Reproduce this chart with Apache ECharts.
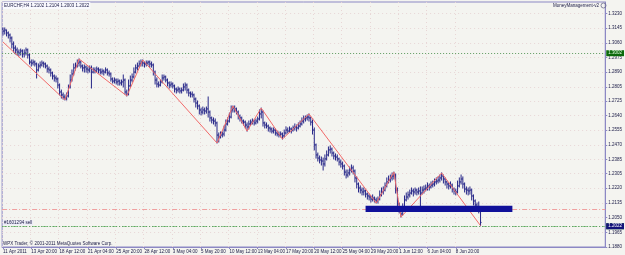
<!DOCTYPE html>
<html><head><meta charset="utf-8">
<script src="https://cdn.jsdelivr.net/npm/echarts@6/dist/echarts.min.js"></script>
<style>html,body{margin:0;padding:0;background:#f4f4f0;}#c{width:625px;height:255px;}</style>
</head><body><div id="c"></div>
<script>
const symbol = 'EURCHF', timeframe = 'H4';
const opens = [
1.3140,1.3128,1.3134,1.3117,1.3105,1.3088,1.3053,1.3030,1.3019,1.3007,
1.3001,1.3013,1.2996,1.3001,1.3019,1.2990,1.2949,1.2943,1.2949,1.2938,
1.2903,1.2926,1.2932,1.2943,1.2938,1.2926,1.2909,1.2903,1.2886,1.2868,
1.2857,1.2851,1.2816,1.2776,1.2759,1.2747,1.2741,1.2753,1.2805,1.2845,
1.2880,1.2915,1.2926,1.2943,1.2949,1.2926,1.2915,1.2920,1.2909,1.2903,
1.2915,1.2891,1.2903,1.2897,1.2909,1.2903,1.2891,1.2897,1.2891,1.2903,
1.2886,1.2880,1.2851,1.2839,1.2845,1.2834,1.2839,1.2828,1.2834,1.2845,
1.2776,1.2764,1.2811,1.2845,1.2863,1.2891,1.2915,1.2926,1.2938,1.2949,
1.2943,1.2938,1.2943,1.2949,1.2938,1.2932,1.2891,1.2845,1.2822,1.2816,
1.2834,1.2857,1.2863,1.2845,1.2828,1.2816,1.2822,1.2811,1.2793,1.2787,
1.2793,1.2782,1.2787,1.2805,1.2816,1.2787,1.2770,1.2764,1.2759,1.2735,
1.2712,1.2695,1.2672,1.2660,1.2672,1.2666,1.2678,1.2660,1.2626,1.2614,
1.2608,1.2597,1.2527,1.2516,1.2527,1.2533,1.2556,1.2591,1.2608,1.2631,
1.2672,1.2683,1.2678,1.2660,1.2637,1.2626,1.2608,1.2602,1.2585,1.2574,
1.2591,1.2602,1.2608,1.2597,1.2608,1.2620,1.2649,1.2660,1.2597,1.2585,
1.2579,1.2568,1.2562,1.2550,1.2556,1.2539,1.2533,1.2527,1.2533,1.2522,
1.2539,1.2556,1.2550,1.2562,1.2556,1.2568,1.2574,1.2568,1.2579,1.2591,
1.2608,1.2620,1.2626,1.2631,1.2626,1.2602,1.2556,1.2470,1.2412,1.2394,
1.2383,1.2377,1.2360,1.2389,1.2412,1.2441,1.2446,1.2423,1.2406,1.2400,
1.2389,1.2371,1.2360,1.2348,1.2313,1.2296,1.2308,1.2325,1.2337,1.2319,
1.2279,1.2244,1.2221,1.2209,1.2198,1.2204,1.2186,1.2175,1.2169,1.2157,
1.2163,1.2152,1.2146,1.2157,1.2181,1.2198,1.2209,1.2233,1.2256,1.2267,
1.2279,1.2290,1.2296,1.2209,1.2129,1.2094,1.2071,1.2105,1.2152,1.2169,
1.2181,1.2192,1.2204,1.2198,1.2209,1.2198,1.2204,1.2192,1.2209,1.2215,
1.2221,1.2233,1.2227,1.2238,1.2244,1.2256,1.2261,1.2267,1.2279,1.2290,
1.2273,1.2256,1.2244,1.2233,1.2238,1.2215,1.2204,1.2198,1.2233,1.2256,
1.2273,1.2244,1.2215,1.2209,1.2204,1.2209,1.2175,1.2146,1.2123,1.2111,
1.2102];
const highs = [
1.3146,1.3146,1.3134,1.3123,1.3111,1.3094,1.3065,1.3042,1.3030,1.3019,
1.3024,1.3019,1.3019,1.3030,1.3024,1.2996,1.2961,1.2961,1.2955,1.2943,
1.2938,1.2949,1.2955,1.2949,1.2943,1.2932,1.2920,1.2909,1.2891,1.2874,
1.2868,1.2857,1.2822,1.2787,1.2770,1.2759,1.2770,1.2816,1.2874,1.2903,
1.2938,1.2943,1.2961,1.2967,1.2955,1.2932,1.2932,1.2926,1.2920,1.2926,
1.2926,1.2915,1.2915,1.2920,1.2915,1.2909,1.2909,1.2903,1.2915,1.2909,
1.2897,1.2886,1.2857,1.2857,1.2851,1.2851,1.2845,1.2845,1.2874,1.2851,
1.2787,1.2845,1.2868,1.2880,1.2915,1.2932,1.2943,1.2955,1.2961,1.2961,
1.2949,1.2955,1.2955,1.2955,1.2949,1.2938,1.2897,1.2857,1.2834,1.2845,
1.2874,1.2874,1.2868,1.2851,1.2834,1.2834,1.2828,1.2816,1.2799,1.2805,
1.2799,1.2799,1.2822,1.2828,1.2822,1.2793,1.2776,1.2776,1.2764,1.2741,
1.2724,1.2701,1.2683,1.2689,1.2683,1.2689,1.2747,1.2666,1.2631,1.2626,
1.2620,1.2602,1.2539,1.2545,1.2545,1.2579,1.2614,1.2626,1.2654,1.2695,
1.2695,1.2695,1.2683,1.2666,1.2643,1.2631,1.2614,1.2608,1.2597,1.2608,
1.2614,1.2620,1.2614,1.2620,1.2631,1.2672,1.2683,1.2666,1.2602,1.2597,
1.2585,1.2574,1.2568,1.2568,1.2562,1.2550,1.2545,1.2545,1.2539,1.2556,
1.2574,1.2568,1.2574,1.2568,1.2579,1.2591,1.2585,1.2597,1.2608,1.2626,
1.2637,1.2637,1.2643,1.2649,1.2631,1.2614,1.2568,1.2475,1.2423,1.2406,
1.2400,1.2394,1.2412,1.2435,1.2458,1.2464,1.2452,1.2429,1.2418,1.2412,
1.2394,1.2383,1.2371,1.2354,1.2325,1.2325,1.2342,1.2354,1.2348,1.2325,
1.2285,1.2250,1.2233,1.2221,1.2221,1.2209,1.2192,1.2186,1.2175,1.2181,
1.2169,1.2163,1.2169,1.2204,1.2221,1.2227,1.2250,1.2279,1.2290,1.2296,
1.2308,1.2313,1.2302,1.2221,1.2134,1.2105,1.2129,1.2175,1.2192,1.2198,
1.2209,1.2221,1.2215,1.2221,1.2215,1.2221,1.2227,1.2227,1.2233,1.2238,
1.2250,1.2244,1.2256,1.2261,1.2273,1.2279,1.2285,1.2296,1.2308,1.2296,
1.2279,1.2261,1.2250,1.2256,1.2244,1.2221,1.2215,1.2261,1.2279,1.2296,
1.2285,1.2250,1.2227,1.2221,1.2227,1.2215,1.2181,1.2152,1.2134,1.2140,
1.2104];
const lows = [
1.3105,1.3111,1.3100,1.3088,1.3065,1.3030,1.3007,1.2996,1.2990,1.2984,
1.2990,1.2978,1.2978,1.2990,1.2972,1.2938,1.2926,1.2932,1.2926,1.2857,
1.2897,1.2915,1.2926,1.2920,1.2915,1.2891,1.2886,1.2868,1.2851,1.2839,
1.2834,1.2799,1.2759,1.2741,1.2735,1.2730,1.2730,1.2747,1.2799,1.2839,
1.2874,1.2903,1.2920,1.2926,1.2915,1.2897,1.2891,1.2891,1.2886,1.2891,
1.2799,1.2886,1.2886,1.2891,1.2886,1.2880,1.2880,1.2874,1.2886,1.2874,
1.2868,1.2839,1.2828,1.2828,1.2822,1.2816,1.2816,1.2816,1.2805,1.2764,
1.2753,1.2759,1.2805,1.2834,1.2857,1.2886,1.2903,1.2920,1.2926,1.2926,
1.2920,1.2926,1.2932,1.2920,1.2920,1.2874,1.2822,1.2805,1.2805,1.2811,
1.2828,1.2845,1.2834,1.2811,1.2799,1.2805,1.2799,1.2776,1.2770,1.2776,
1.2770,1.2770,1.2782,1.2787,1.2770,1.2753,1.2747,1.2747,1.2718,1.2689,
1.2678,1.2649,1.2643,1.2649,1.2649,1.2654,1.2631,1.2608,1.2597,1.2591,
1.2579,1.2481,1.2487,1.2510,1.2516,1.2522,1.2550,1.2585,1.2602,1.2626,
1.2660,1.2660,1.2649,1.2620,1.2608,1.2597,1.2585,1.2568,1.2550,1.2562,
1.2585,1.2591,1.2585,1.2591,1.2597,1.2614,1.2626,1.2579,1.2568,1.2568,
1.2550,1.2545,1.2539,1.2539,1.2527,1.2522,1.2516,1.2516,1.2504,1.2516,
1.2533,1.2539,1.2545,1.2539,1.2550,1.2556,1.2550,1.2562,1.2574,1.2585,
1.2597,1.2608,1.2614,1.2608,1.2585,1.2533,1.2441,1.2394,1.2377,1.2366,
1.2354,1.2325,1.2348,1.2383,1.2406,1.2423,1.2406,1.2389,1.2383,1.2377,
1.2354,1.2342,1.2331,1.2296,1.2279,1.2285,1.2296,1.2313,1.2302,1.2256,
1.2221,1.2198,1.2192,1.2181,1.2181,1.2169,1.2157,1.2152,1.2140,1.2146,
1.2140,1.2134,1.2134,1.2152,1.2175,1.2186,1.2204,1.2227,1.2250,1.2256,
1.2267,1.2273,1.2192,1.2111,1.2077,1.2053,1.2065,1.2100,1.2146,1.2157,
1.2169,1.2186,1.2175,1.2186,1.2181,1.2186,1.2111,1.2186,1.2192,1.2204,
1.2209,1.2209,1.2221,1.2227,1.2233,1.2244,1.2250,1.2256,1.2267,1.2250,
1.2238,1.2221,1.2215,1.2221,1.2198,1.2186,1.2181,1.2192,1.2227,1.2244,
1.2221,1.2198,1.2186,1.2181,1.2186,1.2152,1.2123,1.2105,1.2094,1.2077,
1.2003];
const closes = [
1.3128,1.3134,1.3117,1.3105,1.3088,1.3053,1.3030,1.3019,1.3007,1.3001,
1.3013,1.2996,1.3001,1.3019,1.2990,1.2949,1.2943,1.2949,1.2938,1.2903,
1.2926,1.2932,1.2943,1.2938,1.2926,1.2909,1.2903,1.2886,1.2868,1.2857,
1.2851,1.2816,1.2776,1.2759,1.2747,1.2741,1.2753,1.2805,1.2845,1.2880,
1.2915,1.2926,1.2943,1.2949,1.2926,1.2915,1.2920,1.2909,1.2903,1.2915,
1.2891,1.2903,1.2897,1.2909,1.2903,1.2891,1.2897,1.2891,1.2903,1.2886,
1.2880,1.2851,1.2839,1.2845,1.2834,1.2839,1.2828,1.2834,1.2845,1.2776,
1.2764,1.2811,1.2845,1.2863,1.2891,1.2915,1.2926,1.2938,1.2949,1.2943,
1.2938,1.2943,1.2949,1.2938,1.2932,1.2891,1.2845,1.2822,1.2816,1.2834,
1.2857,1.2863,1.2845,1.2828,1.2816,1.2822,1.2811,1.2793,1.2787,1.2793,
1.2782,1.2787,1.2805,1.2816,1.2787,1.2770,1.2764,1.2759,1.2735,1.2712,
1.2695,1.2672,1.2660,1.2672,1.2666,1.2678,1.2660,1.2626,1.2614,1.2608,
1.2597,1.2527,1.2516,1.2527,1.2533,1.2556,1.2591,1.2608,1.2631,1.2672,
1.2683,1.2678,1.2660,1.2637,1.2626,1.2608,1.2602,1.2585,1.2574,1.2591,
1.2602,1.2608,1.2597,1.2608,1.2620,1.2649,1.2660,1.2597,1.2585,1.2579,
1.2568,1.2562,1.2550,1.2556,1.2539,1.2533,1.2527,1.2533,1.2522,1.2539,
1.2556,1.2550,1.2562,1.2556,1.2568,1.2574,1.2568,1.2579,1.2591,1.2608,
1.2620,1.2626,1.2631,1.2626,1.2602,1.2556,1.2470,1.2412,1.2394,1.2383,
1.2377,1.2360,1.2389,1.2412,1.2441,1.2446,1.2423,1.2406,1.2400,1.2389,
1.2371,1.2360,1.2348,1.2313,1.2296,1.2308,1.2325,1.2337,1.2319,1.2279,
1.2244,1.2221,1.2209,1.2198,1.2204,1.2186,1.2175,1.2169,1.2157,1.2163,
1.2152,1.2146,1.2157,1.2181,1.2198,1.2209,1.2233,1.2256,1.2267,1.2279,
1.2290,1.2296,1.2209,1.2129,1.2094,1.2071,1.2105,1.2152,1.2169,1.2181,
1.2192,1.2204,1.2198,1.2209,1.2198,1.2204,1.2192,1.2209,1.2215,1.2221,
1.2233,1.2227,1.2238,1.2244,1.2256,1.2261,1.2267,1.2279,1.2290,1.2273,
1.2256,1.2244,1.2233,1.2238,1.2215,1.2204,1.2198,1.2233,1.2256,1.2273,
1.2244,1.2215,1.2209,1.2204,1.2209,1.2175,1.2146,1.2123,1.2111,1.2102,
1.2022];

// ZigZag indicator vertices (bar index, price)
const zigzagIndex = [0, 35, 43, 70, 79, 121, 130, 138, 146, 158, 173, 211, 221, 225, 248, 270];
const zigzagPrice = [1.3065, 1.2730, 1.2967, 1.2753, 1.2961, 1.2481, 1.2695, 1.2550, 1.2683, 1.2504, 1.2649, 1.2134, 1.2313, 1.2053, 1.2308, 1.2003];

// horizontal levels
const levelTop = 1.3002;
const stopLevel = 1.2117;
const tradeOpenLevel = 1.2040;
const levelBottom = 1.1998;
const tradeLabel = '#1601294 sell';

// rectangle object
const rectStartBar = 205, rectEndBar = 288, rectTop = 1.2119, rectBottom = 1.2082;

// axes
const slotCount = 341;           // bars + chart shift space
const xTickStep = 16;
const xTickLabels = ['11 Apr 2011','13 Apr 20:00','18 Apr 12:00','21 Apr 04:00','25 Apr 20:00','28 Apr 12:00','3 May 04:00','5 May 20:00','10 May 12:00','13 May 04:00','17 May 20:00','20 May 12:00','25 May 04:00','29 May 20:00','1 Jun 12:00','6 Jun 04:00','8 Jun 20:00'];
const yTickLabels = ['1.3230','1.3145','1.3060','1.2975','1.2890','1.2805','1.2725','1.2640','1.2555','1.2470','1.2385','1.2305','1.2220','1.2135','1.2050','1.1965','1.1880'];
const yMin = 1.1880, yMax = 1.3296;

const textColor = '#20204a';
const barColor = '#262688';
const font = 'Liberation Sans';
const fs = 4.5;

const categories = [];
for (let i = 0; i < slotCount; i++) categories.push(String(i));
const ohlc = opens.map((o, i) => [i, o, highs[i], lows[i], closes[i]]);
const zigzag = zigzagIndex.map((b, k) => [b, zigzagPrice[k]]);
const yTickValues = yTickLabels.map(Number);
const last = opens.length - 1;
const fmt = v => v.toFixed(4);
const isTick = idx => idx % xTickStep === 0 && idx / xTickStep < xTickLabels.length;
const boxLabel = (text, bg, fg) => ({show: true, position: 'end', distance: 1, formatter: text, backgroundColor: bg, color: fg, opacity: 1, fontSize: fs, fontFamily: font, padding: [0.5, 2], lineHeight: 5});

const chart = echarts.init(document.getElementById('c'), null, {renderer: 'canvas'});
chart.setOption({
  animation: false,
  backgroundColor: '#f4f4f0',
  textStyle: {fontFamily: font},
  grid: {left: 1, right: 17, top: 2, bottom: 8, show: true, borderColor: '#8c88c4', borderWidth: 1, backgroundColor: 'transparent'},
  xAxis: {
    type: 'category', data: categories, boundaryGap: true,
    axisLine: {show: true, lineStyle: {color: '#8c88c4', width: 1}},
    axisTick: {show: true, alignWithLabel: true, interval: isTick, length: 2, lineStyle: {color: '#8c88c4'}},
    axisLabel: {
      show: true, interval: isTick, align: 'left', margin: 2,
      fontSize: fs, fontFamily: font, color: textColor,
      formatter: (v, idx) => xTickLabels[idx / xTickStep] || ''
    },
    splitLine: {show: true, interval: isTick, lineStyle: {color: '#e8d6d6', type: [1, 3], width: 1}}
  },
  yAxis: {
    type: 'value', position: 'right', min: yMin, max: yMax, scale: true,
    axisLine: {show: true, lineStyle: {color: '#8c88c4', width: 1}},
    axisTick: {show: true, length: 2, customValues: yTickValues, lineStyle: {color: '#8c88c4'}},
    axisLabel: {show: true, customValues: yTickValues, margin: 3, fontSize: fs, fontFamily: font, color: textColor, formatter: fmt},
    splitLine: {show: true, lineStyle: {color: '#e8d6d6', type: [1, 3], width: 1}}
  },
  series: [
    {
      type: 'custom', name: 'bars', z: 2, data: ohlc,
      encode: {x: 0, y: [1, 2, 3, 4]},
      renderItem: (params, api) => {
        const i = api.value(0);
        const pO = api.coord([i, api.value(1)]);
        const pH = api.coord([i, api.value(2)]);
        const pL = api.coord([i, api.value(3)]);
        const pC = api.coord([i, api.value(4)]);
        const x = pO[0];
        const st = {stroke: barColor, lineWidth: 1};
        return {type: 'group', children: [
          {type: 'line', shape: {x1: x, y1: pH[1] - 0.5, x2: x, y2: pL[1] + 0.5}, style: st},
          {type: 'line', shape: {x1: x - 1, y1: pO[1], x2: x, y2: pO[1]}, style: st},
          {type: 'line', shape: {x1: x, y1: pC[1], x2: x + 1, y2: pC[1]}, style: st}
        ]};
      }
    },
    {
      type: 'line', name: 'levels', z: 3, data: [], silent: true,
      markLine: {
        silent: true, symbol: 'none', animation: false, z: 3,
        data: [
          {yAxis: levelTop, lineStyle: {color: '#5e9a5e', type: [1, 2], width: 1}, label: boxLabel(fmt(levelTop), '#0c6a0c', '#e6ffe6')},
          {yAxis: stopLevel, lineStyle: {color: '#f0a0a0', type: [5, 2, 1, 2], width: 1}, label: {show: false}},
          {yAxis: tradeOpenLevel, lineStyle: {color: '#90cc90', type: [5, 2, 1, 2], width: 1},
           label: {show: true, position: 'insideStartTop', distance: 1, formatter: tradeLabel, color: textColor, fontSize: fs, fontFamily: font, backgroundColor: 'rgba(235,235,250,0.8)', padding: [0, 1]}},
          {yAxis: levelBottom, lineStyle: {color: '#5e9a5e', type: [1, 2], width: 1}, label: boxLabel(fmt(levelBottom), '#0c6a0c', '#e6ffe6')}
        ]
      }
    },
    {
      type: 'line', name: 'ZigZag', z: 4, data: zigzag, showSymbol: false, symbol: 'none',
      lineStyle: {color: '#f26a6a', width: 1}, silent: true
    },
    {
      type: 'line', name: 'objects', z: 10, data: [], silent: true,
      markArea: {
        silent: true, z: 10,
        itemStyle: {color: '#10109a', opacity: 1, borderWidth: 0},
        label: {show: false},
        data: [[{xAxis: rectStartBar, yAxis: rectTop}, {xAxis: rectEndBar, yAxis: rectBottom}]]
      },
      markLine: {
        silent: true, symbol: 'none', animation: false, z: 11,
        data: [
          {yAxis: closes[last], lineStyle: {color: 'rgba(0,0,0,0)', width: 0.01}, label: boxLabel(fmt(closes[last]), '#14147a', '#ffffff')}
        ]
      }
    }
  ],
  graphic: [
    {type: 'text', left: 3, top: 2, z: 10,
     style: {text: symbol + ',' + timeframe + ' ' + fmt(opens[last]) + ' ' + fmt(highs[last]) + ' ' + fmt(lows[last]) + ' ' + fmt(closes[last]),
             fill: textColor, font: fs + 'px "' + font + '"', backgroundColor: 'rgba(250,250,255,0.9)', padding: [1, 1]}},
    {type: 'text', right: 26, top: 3, z: 10,
     style: {text: 'MoneyManagement-v2', fill: textColor, font: fs + 'px "' + font + '"'}},
    {type: 'circle', shape: {cx: 603.5, cy: 5.5, r: 2.5}, z: 10,
     style: {fill: 'none', stroke: '#6a6a8a', lineWidth: 0.8}},
    {type: 'text', left: 3, top: 241, z: 10,
     style: {text: 'WPX Trader, © 2001-2011 MetaQuotes Software Corp.', fill: textColor, font: fs + 'px "' + font + '"'}}
  ]
});
</script></body></html>
